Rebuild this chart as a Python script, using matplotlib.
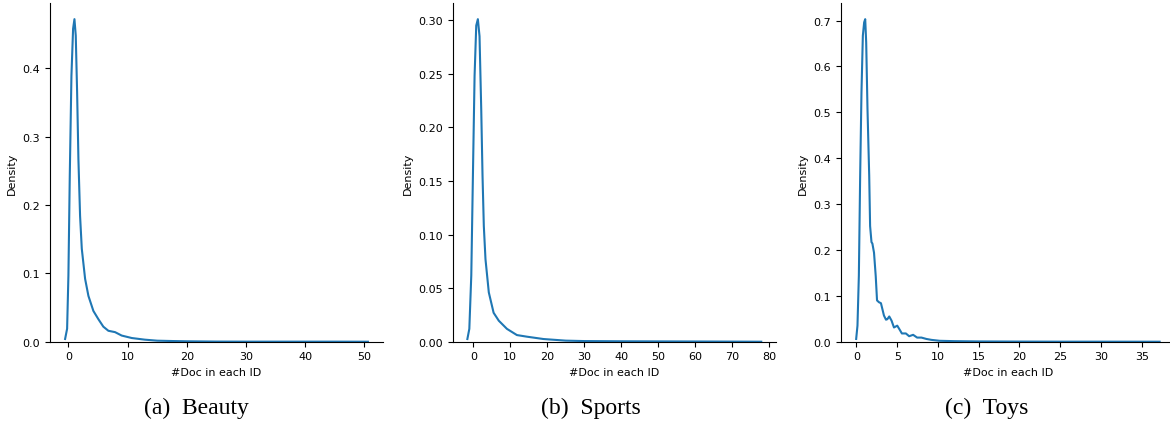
import matplotlib as mpl
mpl.use('Agg')

import matplotlib.pyplot as plt
import numpy as np

# Density curves (x = #Doc in each ID, y = density)
beauty_x = [-0.56, -0.22, 0.0, 0.23, 0.51, 0.79, 1.02, 1.24, 1.47, 1.69, 1.97,
            2.26, 2.82, 3.38, 4.22, 5.06, 5.9, 6.75, 7.88, 9.0, 10.7, 12.9,
            15.0, 17.5, 20.0, 25.0, 30.0, 35.0, 40.0, 45.0, 50.6]
beauty_y = [0.004, 0.019, 0.097, 0.243, 0.389, 0.458, 0.472, 0.448, 0.365,
            0.267, 0.184, 0.136, 0.092, 0.067, 0.045, 0.033, 0.022, 0.016,
            0.014, 0.009, 0.0054, 0.003, 0.0015, 0.001, 0.0006, 0.0002,
            0.0001, 0.0001, 0.0001, 0.0001, 0.0]

sports_x = [-1.6, -1.07, -0.54, -0.1, 0.35, 0.8, 1.24, 1.69, 2.15, 2.5, 2.85,
            3.3, 4.2, 5.5, 6.9, 9.1, 11.8, 14.5, 19.0, 25.0, 30.0, 40.0, 50.0,
            60.0, 70.0, 77.9]
sports_y = [0.0025, 0.012, 0.062, 0.155, 0.248, 0.295, 0.301, 0.285, 0.217,
            0.155, 0.108, 0.077, 0.046, 0.027, 0.0196, 0.012, 0.0062, 0.0047,
            0.0025, 0.001, 0.0006, 0.0004, 0.0003, 0.0002, 0.0001, 0.0]

toys_x = [-0.04, 0.12, 0.29, 0.45, 0.61, 0.78, 0.94, 1.07, 1.19, 1.35, 1.56,
          1.67, 1.84, 1.95, 2.15, 2.36, 2.52, 2.76, 3.0, 3.37, 3.62, 3.78,
          4.02, 4.3, 4.6, 5.0, 5.24, 5.57, 6.06, 6.46, 6.95, 7.44, 7.97, 8.58,
          9.2, 10.2, 12.0, 15.0, 20.0, 25.0, 30.0, 37.2]
toys_y = [0.006, 0.035, 0.144, 0.362, 0.543, 0.667, 0.696, 0.703, 0.652,
          0.507, 0.362, 0.252, 0.217, 0.214, 0.194, 0.143, 0.09, 0.086, 0.084,
          0.057, 0.048, 0.049, 0.055, 0.046, 0.031, 0.035, 0.028, 0.018,
          0.018, 0.012, 0.015, 0.009, 0.009, 0.006, 0.004, 0.002, 0.0012,
          0.0006, 0.0003, 0.0001, 0.0001, 0.0]

captions = ['(a)  Beauty', '(b)  Sports', '(c)  Toys']
xlabel = '#Doc in each ID'
ylabel = 'Density'

line_color = '#1f77b4'

fig = plt.figure(figsize=(11.7, 4.27), dpi=100)
axes_pos = [[0.0427, 0.1974, 0.2847, 0.7932],
            [0.3869, 0.1974, 0.2763, 0.7932],
            [0.7188, 0.1974, 0.2853, 0.7932]]
caption_x = [0.1675, 0.505, 0.8436]

curves = [(beauty_x, beauty_y), (sports_x, sports_y), (toys_x, toys_y)]

for pos, (xs, ys), cap, cx in zip(axes_pos, curves, captions, caption_x):
    ax = fig.add_axes(pos)
    ax.plot(np.array(xs), np.array(ys), color=line_color, linewidth=1.5)
    ax.set_ylim(bottom=0)
    ax.set_xlabel(xlabel, fontsize=8)
    ax.set_ylabel(ylabel, fontsize=8)
    ax.tick_params(axis='both', labelsize=8)
    ax.spines['top'].set_visible(False)
    ax.spines['right'].set_visible(False)
    fig.text(cx, 0.0445, cap, ha='center', va='center',
             family='Liberation Serif', fontsize=17)

fig.savefig('out.png', dpi=100)
